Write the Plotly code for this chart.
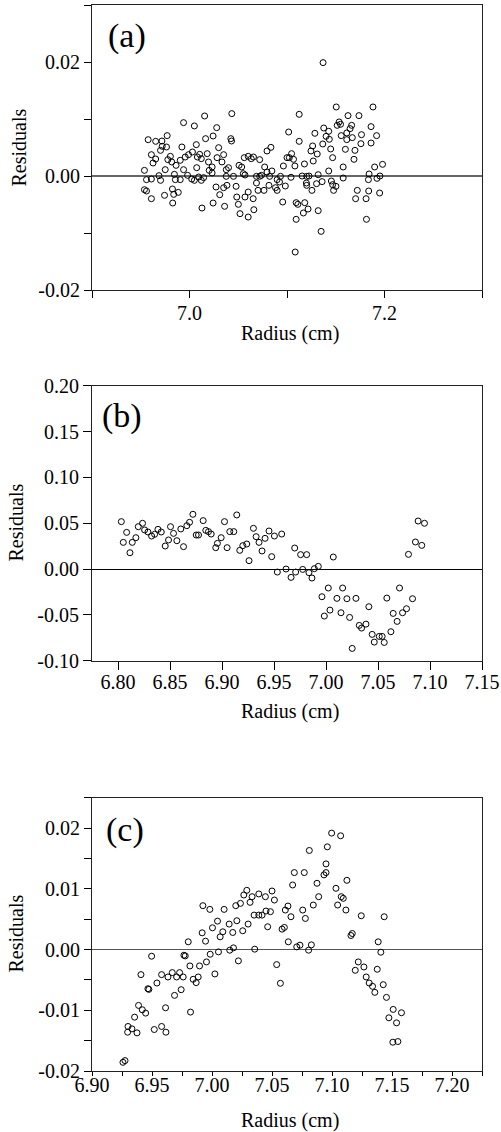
import plotly.graph_objects as go

# ---------------- data: panel (a) ----------------
a_radius = [6.9576, 6.9653, 6.9717, 6.9771, 6.9720, 6.9764, 6.9703, 6.9609, 6.9653, 6.9626,
            6.9538, 6.9559, 6.9609, 6.9687, 6.9703, 6.9751, 6.9538, 6.9559, 6.9609, 6.9744,
            6.9825, 6.9838, 6.9885, 6.9828, 6.9778, 6.9818, 6.9804, 6.9862, 6.9922, 6.9939,
            7.0050, 7.0155, 6.9905, 6.9956, 6.9990, 7.0030, 7.0070, 7.0081, 7.0104, 7.0121,
            7.0182, 7.0195, 7.0232, 7.0074, 6.9939, 6.9845, 6.9855, 6.9905, 6.9980, 7.0023,
            7.0050, 7.0094, 7.0121, 7.0145, 7.0202, 7.0232, 7.0165, 7.0242, 7.0279, 7.0299,
            7.0333, 7.0350, 7.0283, 7.0424, 7.0431, 7.0434, 7.0377, 7.0400, 7.0377, 7.0451,
            7.0508, 7.0535, 7.0562, 7.0602, 7.0633, 7.0656, 7.0720, 7.0552, 7.0569, 7.0687,
            7.0720, 7.0272, 7.0310, 7.0350, 7.0384, 7.0360, 7.0242, 7.0128, 7.0478, 7.0485,
            7.0501, 7.0518, 7.0569, 7.0602, 7.0602, 7.0653, 7.0660, 7.0687, 7.0703,
            7.1370, 7.1505, 7.1882, 7.1125, 7.1626, 7.1738, 7.1535, 7.1515, 7.1549, 7.1663,
            7.1377, 7.1647, 7.1862, 7.1017, 7.1428, 7.1286, 7.1401, 7.1556, 7.1613, 7.1670,
            7.1764, 7.1919, 7.1125, 7.1434, 7.1613, 7.1367, 7.1263, 7.1758, 7.1862, 7.1448,
            7.1599, 7.1246, 7.1697, 7.0835, 7.0795, 7.1310, 7.1047, 7.1000, 7.1024, 7.1067,
            7.1468, 7.1687, 7.1081, 7.1269, 7.1179, 7.0963, 7.0771, 7.1576, 7.1899, 7.1980,
            7.1428, 7.0845, 7.0795, 7.0738, 7.0822, 7.0933, 7.1041, 7.1155, 7.1202, 7.1226,
            7.1320, 7.1576, 7.1842, 7.1953, 7.1923, 7.1835, 7.0899, 7.0923, 7.0983, 7.0815,
            7.0882, 7.0899, 7.0764, 7.1199, 7.1202, 7.1303, 7.1360, 7.1455, 7.1468, 7.1502,
            7.1256, 7.1478, 7.1721, 7.1838, 7.1704, 7.1811, 7.1950, 7.0956, 7.1094, 7.1111,
            7.1182, 7.1216, 7.1168, 7.1320, 7.1094, 7.1815, 7.1350, 7.1084]
a_resid = [0.00637, 0.00608, 0.00614, 0.00708, 0.00521, 0.00509, 0.00450, 0.00374, 0.00298, 0.00228,
           0.00099, -0.00064, -0.00053, 0.00006, -0.00076, 0.00111, -0.00240, -0.00263, -0.00398, -0.00339,
           -0.00228, -0.00322, -0.00287, -0.00474, 0.00287, 0.00246, 0.00345, 0.00187, 0.00509, 0.00936,
           0.00878, 0.01053, 0.00275, 0.00333, 0.00374, 0.00421, 0.00550, 0.00333, 0.00380, 0.00304,
           0.00392, 0.00246, 0.00158, 0.00146, 0.00111, 0.00029, -0.00064, -0.00064, 0.00012, -0.00053,
           -0.00076, -0.00018, -0.00076, -0.00029, 0.00099, 0.00053, 0.00655, 0.00702, 0.00848, 0.00497,
           0.00246, 0.00374, 0.00322, 0.00655, 0.00614, 0.01094, 0.00111, 0.00146, -0.00006, -0.00006,
           0.00187, 0.00158, 0.00322, 0.00345, 0.00304, 0.00333, 0.00287, 0.00041, 0.00018, -0.00006,
           -0.00006, -0.00193, -0.00328, -0.00205, -0.00164, -0.00532, -0.00474, -0.00562, -0.00181, -0.00369,
           -0.00497, -0.00661, -0.00369, -0.00281, -0.00720, -0.00398, -0.00591, -0.00123, -0.00252,
           0.01989, 0.01211, 0.01211, 0.01082, 0.01059, 0.01059, 0.00948, 0.00889, 0.00907, 0.00889,
           0.00842, 0.00831, 0.00866, 0.00772, 0.00784, 0.00749, 0.00696, 0.00708, 0.00755, 0.00673,
           0.00725, 0.00708, 0.00608, 0.00644, 0.00638, 0.00562, 0.00527, 0.00567, 0.00579, 0.00474,
           0.00468, 0.00439, 0.00450, 0.00503, 0.00439, 0.00386, 0.00392, 0.00322, 0.00322, 0.00293,
           0.00322, 0.00293, 0.00176, 0.00263, 0.00211, 0.00176, 0.00158, 0.00158, 0.00158, 0.00205,
           0.00088, 0.00088, 0.00070, 0.00012, -0.00006, -0.00006, -0.00023, 0.00000, -0.00006, 0.00000,
           0.00023, -0.00035, 0.00035, 0.00000, -0.00041, -0.00064, -0.00064, -0.00105, -0.00176, -0.00164,
           -0.00205, -0.00252, -0.00252, -0.00123, -0.00164, -0.00135, -0.00099, -0.00088, -0.00152, -0.00181,
           -0.00252, -0.00252, -0.00252, -0.00263, -0.00398, -0.00398, -0.00298, -0.00456, -0.00468, -0.00497,
           -0.00468, -0.00579, -0.00649, -0.00608, -0.00760, -0.00760, -0.00971, -0.01334]

# ---------------- data: panel (b) ----------------
b_radius = [6.8032, 6.8083, 6.8051, 6.8115, 6.8137, 6.8172, 6.8195, 6.8236, 6.8256, 6.8288,
            6.8323, 6.8352, 6.8384, 6.8416, 6.8454, 6.8486, 6.8505, 6.8534, 6.8566, 6.8604,
            6.8630, 6.8662, 6.8688, 6.8720, 6.8752, 6.8774, 6.8819, 6.8844, 6.8870, 6.8896,
            6.8940, 6.8956, 6.8992, 6.9024, 6.9049, 6.9075, 6.9113, 6.9142, 6.9171, 6.9200,
            6.9238, 6.9260, 6.9302, 6.9328, 6.9356, 6.9385, 6.9414, 6.9452, 6.9478, 6.9504,
            6.9574, 6.9532,
            6.9699, 6.9756, 6.9814, 7.0070, 6.9616, 6.9664, 6.9708, 6.9776, 6.9836, 6.9865,
            6.9888, 6.9926, 7.0022, 7.0160, 6.9961, 7.0105, 7.0201, 7.0288, 7.0038, 6.9984,
            7.0144, 7.0227, 7.0412, 7.0320, 7.0342, 7.0384, 7.0444, 7.0464, 7.0512, 7.0540,
            7.0560, 7.0624, 7.0252, 7.0585, 7.0707, 7.0832, 7.0646, 7.0684, 7.0736, 7.0774,
            7.0793, 7.0860, 7.0921, 7.0886, 7.0947]
b_resid = [0.0517, 0.0400, 0.0291, 0.0178, 0.0291, 0.0342, 0.0462, 0.0499, 0.0426, 0.0404,
           0.0360, 0.0379, 0.0433, 0.0404, 0.0251, 0.0317, 0.0462, 0.0389, 0.0309, 0.0437,
           0.0244, 0.0473, 0.0510, 0.0597, 0.0371, 0.0371, 0.0528, 0.0422, 0.0408, 0.0382,
           0.0233, 0.0280, 0.0342, 0.0517, 0.0233, 0.0408, 0.0408, 0.0590, 0.0204, 0.0255,
           0.0273, 0.0091, 0.0444, 0.0353, 0.0291, 0.0197, 0.0335, 0.0415, 0.0135, 0.0360,
           0.0382, -0.0033,
           0.0229, 0.0157, 0.0157, 0.0131, 0.0000, -0.0091, -0.0033, -0.0004, -0.0040, -0.0098,
           0.0004, 0.0029, -0.0207, -0.0207, -0.0302, -0.0320, -0.0324, -0.0320, -0.0448, -0.0513,
           -0.0477, -0.0528, -0.0411, -0.0615, -0.0644, -0.0601, -0.0713, -0.0797, -0.0735, -0.0735,
           -0.0801, -0.0684, -0.0866, -0.0317, -0.0207, -0.0324, -0.0484, -0.0571, -0.0477, -0.0433,
           0.0160, 0.0295, 0.0258, 0.0524, 0.0499]

# ---------------- data: panel (c) ----------------
c_radius = [6.9258, 6.9275, 6.9300, 6.9333, 6.9297, 6.9375, 6.9355, 6.9388, 6.9419, 6.9447,
            6.9519, 6.9580, 6.9616, 6.9613, 6.9821, 6.9408, 6.9466, 6.9474, 6.9497, 6.9541,
            6.9580, 6.9633, 6.9669, 6.9705, 6.9730, 6.9760, 6.9743, 6.9688, 6.9766, 6.9777,
            6.9816, 6.9843, 6.9868, 6.9885, 6.9896, 6.9954, 7.0024, 6.9802, 6.9918, 6.9946,
            6.9985, 7.0004, 7.0046, 7.0068, 7.0090, 7.0143, 7.0173, 7.0207, 7.0256, 7.0301,
            7.0054, 7.0148, 7.0179, 7.0220, 7.0356, 6.9924, 6.9982, 7.0101, 7.0198, 7.0237,
            7.0265, 7.0290, 7.0317, 7.0334, 7.0351, 7.0390, 7.0390, 7.0417,
            7.0445, 7.0500, 7.0520, 7.0450, 7.0487, 7.0464, 7.0584, 7.0603, 7.0611, 7.0633,
            7.0658, 7.0672, 7.0686, 7.0769, 7.0756, 7.0778, 7.0811, 7.0844, 7.0875, 7.0889,
            7.0636, 7.0706, 7.0733, 7.0805, 7.0828, 7.0539, 7.0570, 7.0933, 7.0950, 7.0950,
            7.0961, 7.0997, 7.1072, 7.1033, 7.1077, 7.1094, 7.1047, 7.1116, 7.1124, 7.1158,
            7.1169, 7.1244, 7.1435, 7.1385, 7.1407, 7.1219, 7.1194, 7.1266, 7.1285, 7.1310,
            7.1338, 7.1357, 7.1377, 7.1427, 7.1454, 7.1510, 7.1579, 7.1474, 7.1538, 7.1507,
            7.1549]
c_resid = [-0.01857, -0.01829, -0.01267, -0.01306, -0.01361, -0.01372, -0.01113, -0.00920, -0.00992, -0.01047,
           -0.01317, -0.01267, -0.01361, -0.00959, -0.01030, -0.00413, -0.00645, -0.00656, -0.00110, -0.00551,
           -0.00413, -0.00452, -0.00380, -0.00452, -0.00380, -0.00452, -0.00661, -0.00755, -0.00094, -0.00105,
           -0.00270, -0.00490, -0.00545, -0.00452, -0.00270, -0.00204, -0.00402, 0.00127, 0.00275, 0.00138,
           -0.00077, 0.00358, 0.00468, 0.00209, 0.00292, 0.00419, 0.00281, 0.00474, 0.00309, 0.00419,
           -0.00039, -0.00011, 0.00028, -0.00187, 0.00006, 0.00722, 0.00661, 0.00661, 0.00722, 0.00760,
           0.00898, 0.00975, 0.00777, 0.00870, 0.00567, 0.00915, 0.00567, 0.00567,
           0.00870, 0.00964, 0.00815, 0.00634, 0.00623, 0.00375, 0.00336, 0.00364, 0.00650, 0.00716,
           0.00540, 0.01063, 0.01267, 0.01267, 0.00650, 0.00512, 0.01631, 0.00733, 0.01091, 0.00870,
           0.00127, 0.00044, 0.00072, -0.00011, 0.00077, -0.00248, -0.00556, 0.01229, 0.01267, 0.01410,
           0.01691, 0.01917, 0.01873, 0.01008, 0.00870, 0.00843, 0.00733, 0.00650, 0.01140, 0.00231,
           0.00264, 0.00556, 0.00540, 0.00127, -0.00044, -0.00204, -0.00342, -0.00287, -0.00452, -0.00551,
           -0.00606, -0.00705, -0.00325, -0.00579, -0.00788, -0.00986, -0.01041, -0.01124, -0.01207, -0.01526,
           -0.01515]

# ---------------- tick labels ----------------
a_xticks = [7.0, 7.2]
a_xticklabels = ["7.0", "7.2"]
a_xminor = [6.9, 7.1, 7.3]
a_yticks = [-0.02, 0.0, 0.02]
a_yticklabels = ["-0.02", "0.00", "0.02"]
a_yminor = [-0.01, 0.01, 0.03]

b_xticks = [6.80, 6.85, 6.90, 6.95, 7.00, 7.05, 7.10, 7.15]
b_xticklabels = ["6.80", "6.85", "6.90", "6.95", "7.00", "7.05", "7.10", "7.15"]
b_yticks = [-0.10, -0.05, 0.0, 0.05, 0.10, 0.15, 0.20]
b_yticklabels = ["-0.10", "-0.05", "0.00", "0.05", "0.10", "0.15", "0.20"]

c_xticks = [6.90, 6.95, 7.00, 7.05, 7.10, 7.15, 7.20]
c_xticklabels = ["6.90", "6.95", "7.00", "7.05", "7.10", "7.15", "7.20"]
c_xminor = [6.925, 6.975, 7.025, 7.075, 7.125, 7.175, 7.225]
c_yticks = [-0.02, -0.01, 0.0, 0.01, 0.02]
c_yticklabels = ["-0.02", "-0.01", "0.00", "0.01", "0.02"]
c_yminor = [-0.015, -0.005, 0.005, 0.015, 0.025]

panel_labels = ["(a)", "(b)", "(c)"]
x_title = "Radius (cm)"
y_title = "Residuals"

FONT = "Liberation Serif, Times New Roman, serif"
W, H = 501, 1132
ML, MR, MT, MB = 92, 19, 5, 61


def px_x(p):
    return (p - ML) / (W - ML - MR)


def px_y(p):
    return (H - MB - p) / (H - MT - MB)


marker = dict(symbol="circle-open", size=6, color="black", line=dict(width=1, color="black"))

fig = go.Figure()
fig.add_trace(go.Scatter(x=a_radius, y=a_resid, mode="markers", marker=marker, xaxis="x", yaxis="y", showlegend=False))
fig.add_trace(go.Scatter(x=b_radius, y=b_resid, mode="markers", marker=marker, xaxis="x2", yaxis="y2", showlegend=False))
fig.add_trace(go.Scatter(x=c_radius, y=c_resid, mode="markers", marker=marker, xaxis="x3", yaxis="y3", showlegend=False))

tickfont = dict(family=FONT, size=20, color="black")


def xax(rng, tv, tt, minor, anchor, tlen, standoff):
    d = dict(range=rng, tickmode="array", tickvals=tv, ticktext=tt, ticks="outside", ticklen=tlen,
             tickcolor="black", tickwidth=1, showline=True, linecolor="#222", linewidth=1, mirror=True,
             showgrid=False, zeroline=False, anchor=anchor, automargin=False,
             ticklabelstandoff=standoff, ticklabeloverflow="allow", tickfont=tickfont)
    if minor:
        d["minor"] = dict(tickmode="array", tickvals=minor, ticks="outside", ticklen=tlen,
                          tickcolor="black", showgrid=False)
    return d


def yax(rng, tv, tt, minor, anchor, dom, zcol, zw, tlen):
    d = dict(range=rng, domain=dom, tickmode="array", tickvals=tv, ticktext=tt, ticks="outside", ticklen=tlen,
             tickcolor="black", tickwidth=1, showline=True, linecolor="#222", linewidth=1, mirror=True,
             showgrid=False, zeroline=True, zerolinecolor=zcol, zerolinewidth=zw, anchor=anchor,
             automargin=False, tickfont=tickfont)
    if minor:
        d["minor"] = dict(tickmode="array", tickvals=minor, ticks="outside", ticklen=tlen,
                          tickcolor="black", showgrid=False)
    return d


dom_a = [px_y(290), 1.0]
dom_b = [px_y(660.7), px_y(385.7)]
dom_c = [0.0, px_y(797.7)]

fig.update_layout(
    template="none",
    width=W, height=H,
    margin=dict(l=ML, r=MR, t=MT, b=MB, pad=0),
    paper_bgcolor="white", plot_bgcolor="white",
    font=dict(family=FONT, size=20, color="black"),
    showlegend=False,
    xaxis=xax([6.9, 7.3], a_xticks, a_xticklabels, a_xminor, "y", 7, -2),
    yaxis=yax([-0.02, 0.03], a_yticks, a_yticklabels, a_yminor, "x", dom_a, "#666", 1.5, 7),
    xaxis2=xax([6.775, 7.15], b_xticks, b_xticklabels, None, "y2", 8, -5),
    yaxis2=yax([-0.10, 0.20], b_yticks, b_yticklabels, None, "x2", dom_b, "black", 1, 8),
    xaxis3=xax([6.90, 7.225], c_xticks, c_xticklabels, c_xminor, "y3", 4, -8),
    yaxis3=yax([-0.02, 0.025], c_yticks, c_yticklabels, c_yminor, "x3", dom_c, "#555", 1, 7),
)

# panel letters
for lab, (lx, ly) in zip(panel_labels, [(106, 15), (100, 395), (104, 809)]):
    fig.add_annotation(text=lab, xref="paper", yref="paper", x=px_x(lx), y=px_y(ly),
                       xanchor="left", yanchor="top", showarrow=False,
                       font=dict(family=FONT, size=34, color="black"))

# x-axis titles
for cy in [333, 712, 1120]:
    fig.add_annotation(text=x_title, xref="paper", yref="paper", x=px_x(290), y=px_y(cy),
                       xanchor="center", yanchor="middle", showarrow=False,
                       font=dict(family=FONT, size=20, color="black"))

# y-axis titles
for cx, cy in [(18, 147.5), (15.5, 523), (15.5, 934)]:
    fig.add_annotation(text=y_title, xref="paper", yref="paper", x=px_x(cx), y=px_y(cy),
                       xanchor="center", yanchor="middle", textangle=-90, showarrow=False,
                       font=dict(family=FONT, size=20, color="black"))

# remove the page's default body margin so the figure sits at the window's top-left corner
fig.write_html("out.html", config={"displayModeBar": False},
               post_script="document.body.style.margin='0';document.body.style.padding='0';")
